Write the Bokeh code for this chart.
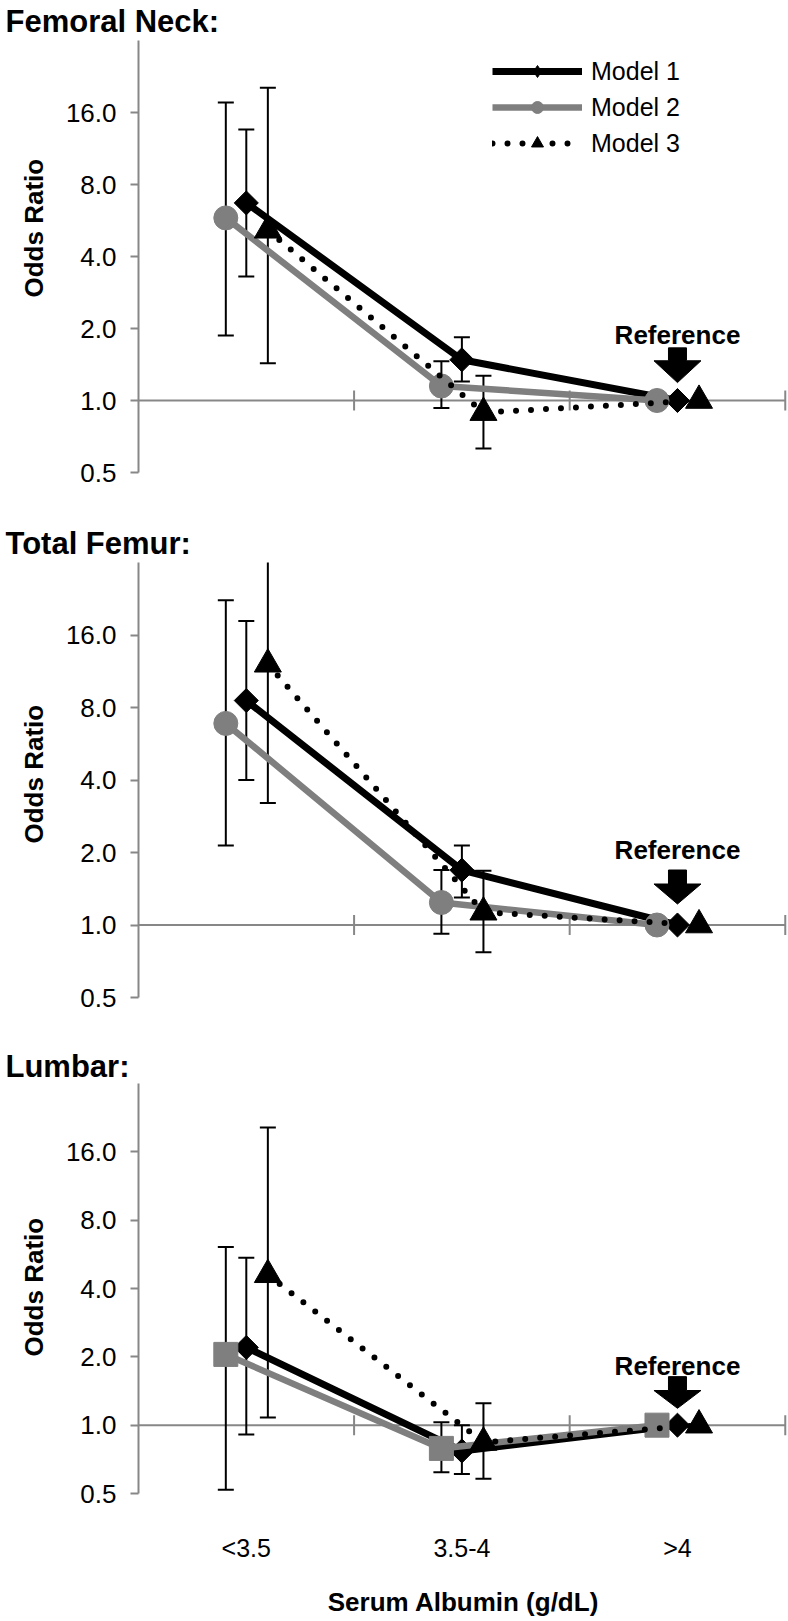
import math
from bokeh.plotting import figure
from bokeh.layouts import column
from bokeh.models import (Range1d, FixedTicker, PrintfTickFormatter, Label,
                          Legend, LegendItem, Title)
from bokeh.embed import file_html
from bokeh.resources import INLINE

# ---------------- data ----------------
categories = ["<3.5", "3.5-4", ">4"]
models = ["Model 1", "Model 2", "Model 3"]
y_ticks = [0.5, 1, 2, 4, 8, 16]
NAN = float("nan")

panel_titles = ["Femoral Neck:", "Total Femur:", "Lumbar:"]

# Femoral Neck
fn_m1 = [6.7, 1.48, 1.0]
fn_m1_lo = [3.3, 1.2, NAN]
fn_m1_hi = [13.6, 1.84, NAN]
fn_m2 = [5.8, 1.15, 1.0]
fn_m2_lo = [1.87, 0.93, NAN]
fn_m2_hi = [17.6, 1.46, NAN]
fn_m3 = [5.15, 0.89, 1.0]
fn_m3_lo = [1.43, 0.63, NAN]
fn_m3_hi = [20.3, 1.27, NAN]

# Total Femur
tf_m1 = [8.55, 1.69, 1.0]
tf_m1_lo = [4.0, 1.3, NAN]
tf_m1_hi = [18.3, 2.14, NAN]
tf_m2 = [6.87, 1.24, 1.0]
tf_m2_lo = [2.14, 0.92, NAN]
tf_m2_hi = [22.3, 1.69, NAN]
tf_m3 = [12.1, 1.13, 1.0]
tf_m3_lo = [3.21, 0.77, NAN]
tf_m3_hi = [40.0, 1.68, NAN]

# Lumbar
lu_m1 = [2.2, 0.77, 1.0]
lu_m1_lo = [0.91, 0.61, NAN]
lu_m1_hi = [5.47, 1.0, NAN]
lu_m2 = [2.05, 0.79, 1.0]
lu_m2_lo = [0.52, 0.62, NAN]
lu_m2_hi = [6.1, 1.03, NAN]
lu_m3 = [4.6, 0.84, 1.0]
lu_m3_lo = [1.08, 0.58, NAN]
lu_m3_hi = [20.5, 1.25, NAN]

REF_VALUE = 1.0
REF_INDEX = 2

# ---------------- style ----------------
FONT = "Liberation Sans"
GRAY = "#7f7f7f"
AXIS_GRAY = "#878787"
YMIN, YMAX = 0.5, 32
XMAX = 3.015
W = 788
FRAME_LEFT = 138
FRAME_W = W - FRAME_LEFT
PPU = FRAME_W / XMAX
OFFSETS = [0.0, -0.095, 0.1]
COLORS = ["black", GRAY, "black"]
WIDTHS = [7, 6.5, 6]
DASHES = ["solid", "solid", "0 15"]

# per-panel layout: (height, top border, frame height, bottom border)
LAYOUT = [(505, 37, 435, 33), (525, 57, 435, 33), (589, 53, 414, 122)]
TITLE_STANDOFF = [3, 3, 0]
YLABEL_OFFSET = [175, 154, 137]
REF_TEXT = [65, 75, 59]
ARROW = [(53, 40, 18), (55, 41, 21), (49, 35, 17)]
M2_MARKER = ["circle", "circle", "square"]

panels = [
    [(fn_m1, fn_m1_lo, fn_m1_hi), (fn_m2, fn_m2_lo, fn_m2_hi), (fn_m3, fn_m3_lo, fn_m3_hi)],
    [(tf_m1, tf_m1_lo, tf_m1_hi), (tf_m2, tf_m2_lo, tf_m2_hi), (tf_m3, tf_m3_lo, tf_m3_hi)],
    [(lu_m1, lu_m1_lo, lu_m1_hi), (lu_m2, lu_m2_lo, lu_m2_hi), (lu_m3, lu_m3_lo, lu_m3_hi)],
]

figs = []
for k, series in enumerate(panels):
    H, bt, fh, bb = LAYOUT[k]
    p = figure(width=W, height=H, y_axis_type="log",
               x_range=Range1d(0, XMAX), y_range=Range1d(YMIN, YMAX),
               output_backend="svg", toolbar_location=None,
               min_border_left=FRAME_LEFT, min_border_right=0,
               min_border_top=bt, min_border_bottom=bb,
               title=panel_titles[k])
    p.outline_line_color = None
    p.grid.visible = False
    p.background_fill_color = "white"

    # panel title
    p.title.align = "left"
    p.title.offset = -(FRAME_LEFT - 5)
    p.title.standoff = TITLE_STANDOFF[k]
    p.title.text_font = FONT
    p.title.text_font_style = "bold"
    p.title.text_font_size = "31px"
    p.title.text_color = "black"

    # y axis
    ya = p.yaxis[0]
    ya.ticker = FixedTicker(ticks=y_ticks)
    ya.formatter = PrintfTickFormatter(format="%.1f")
    ya.axis_line_color = AXIS_GRAY
    ya.axis_line_width = 2
    ya.major_tick_line_color = AXIS_GRAY
    ya.major_tick_line_width = 2
    ya.major_tick_out = 8
    ya.major_tick_in = 0
    ya.minor_tick_line_color = None
    ya.major_label_standoff = 14
    ya.major_label_text_font = FONT
    ya.major_label_text_font_size = "26px"
    ya.major_label_text_color = "black"

    # y axis title (as a side title so it can be placed along the axis)
    p.add_layout(Title(text="Odds Ratio", align="left", offset=YLABEL_OFFSET[k],
                       standoff=27, text_font=FONT, text_font_style="bold",
                       text_font_size="26px", text_color="black"), "left")

    xa = p.xaxis[0]
    if k < 2:
        xa.visible = False
    else:
        ticks = [i + 0.5 for i in range(len(categories))]
        xa.ticker = FixedTicker(ticks=ticks)
        xa.major_label_overrides = {t: c for t, c in zip(ticks, categories)}
        xa.axis_line_color = None
        xa.major_tick_line_color = None
        xa.minor_tick_line_color = None
        xa.major_tick_out = 0
        xa.major_tick_in = 0
        xa.major_label_standoff = 40
        xa.major_label_text_font = FONT
        xa.major_label_text_font_size = "25px"
        xa.major_label_text_color = "black"
        xa.axis_label = "Serum Albumin (g/dL)"
        xa.axis_label_text_font = FONT
        xa.axis_label_text_font_style = "bold"
        xa.axis_label_text_font_size = "26px"
        xa.axis_label_text_color = "black"
        xa.axis_label_standoff = 22

    # horizontal axis crossing at 1.0
    bounds = list(range(1, len(categories) + 1))
    p.segment(x0=[0], x1=[len(categories)], y0=[REF_VALUE], y1=[REF_VALUE],
              line_color=AXIS_GRAY, line_width=2)
    p.scatter(x=bounds, y=[REF_VALUE] * len(bounds), marker="dash", angle=math.pi / 2,
              size=20, line_color=AXIS_GRAY, line_width=2)

    # error bars (behind markers)
    for m, (vals, lo, hi) in enumerate(series):
        xs = [i + 0.5 + OFFSETS[m] for i in range(len(categories))]
        p.segment(x0=xs, x1=xs, y0=lo, y1=hi, line_color="black", line_width=2)
        p.scatter(x=xs + xs, y=lo + hi, marker="dash", size=16,
                  line_color="black", line_width=2)

    items = []
    for m, (vals, lo, hi) in enumerate(series):
        xs = [i + 0.5 + OFFSETS[m] for i in range(len(categories))]
        lr = p.line(xs, vals, line_color=COLORS[m], line_width=WIDTHS[m],
                    line_dash=DASHES[m], line_cap="round" if m == 2 else "butt",
                    line_join="round")
        if m == 0:
            sr = p.scatter(xs, vals, marker="square", angle=math.pi / 4, size=17,
                           color=COLORS[m])
            # legend-only key glyph (NaN point, never drawn in the plot) -> diamond key
            leg_r = p.scatter(x=[NAN], y=[NAN], marker="diamond", size=17, color=COLORS[m])
        elif m == 1:
            sr = p.scatter(xs, vals, marker=M2_MARKER[k], size=24, color=COLORS[m])
            leg_r = sr
        else:
            sr = p.scatter(xs, vals, marker="triangle", size=27, color=COLORS[m])
            leg_r = sr
        items.append(LegendItem(label=models[m], renderers=[lr, leg_r]))

    if k == 0:
        leg = Legend(items=items, location=(354, 314), orientation="vertical",
                     glyph_width=90, glyph_height=30, label_height=30, spacing=6,
                     padding=0, margin=0, label_standoff=9,
                     border_line_color=None, background_fill_alpha=0,
                     label_text_font=FONT, label_text_font_size="25px",
                     label_text_color="black")
        p.add_layout(leg)

    # reference annotation
    ppd = fh / math.log2(YMAX / YMIN)
    y_ref_screen = fh * math.log2(REF_VALUE / YMIN) / math.log2(YMAX / YMIN)
    rx = REF_INDEX + 0.5
    p.add_layout(Label(x=rx, y=y_ref_screen + REF_TEXT[k], x_units="data", y_units="screen",
                       text="Reference", text_font=FONT, text_font_style="bold",
                       text_font_size="26px", text_align="center",
                       text_baseline="alphabetic", text_color="black"))
    top, headtop, tip = ARROW[k]

    def yy(px):
        return REF_VALUE * 2 ** (px / ppd)
    sw, hw = 9 / PPU, 23.5 / PPU
    ax = [rx - sw, rx + sw, rx + sw, rx + hw, rx, rx - hw, rx - sw]
    ay = [yy(top), yy(top), yy(headtop), yy(headtop), yy(tip), yy(headtop), yy(headtop)]
    p.patch(ax, ay, fill_color="black", line_color="black", line_width=1)

    figs.append(p)

layout = column(*figs, spacing=0)
open("out.html", "w").write(file_html(layout, INLINE))
